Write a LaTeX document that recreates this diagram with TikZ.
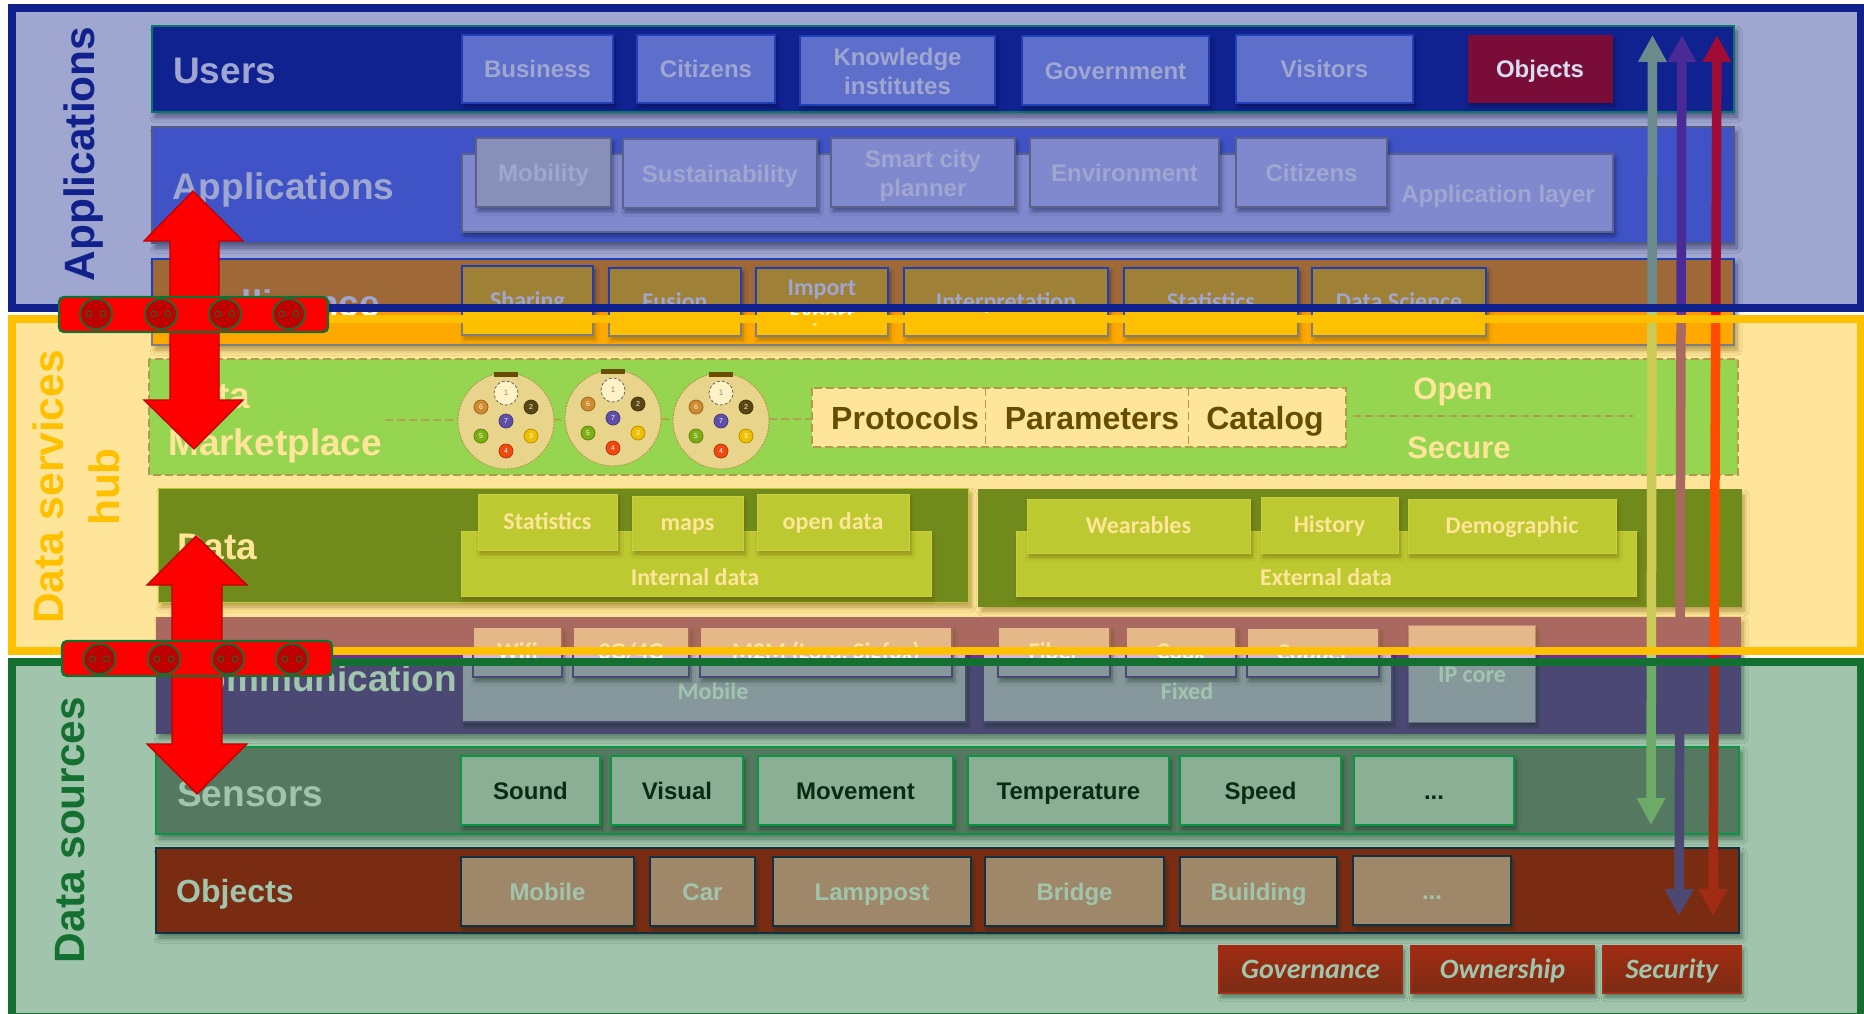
\documentclass[tikz,border=0pt]{standalone}
\usepackage{fontspec}
\setmainfont{Liberation Sans}
\newfontfamily\carl{Carlito}
\usetikzlibrary{shadows,shadows.blur,arrows.meta,calc}
\newcommand\fsz[1]{\fontsize{#1}{#1}\selectfont}
\definecolor{pblue}{HTML}{10218B}
\definecolor{pyel}{HTML}{FFC000}
\definecolor{pgrn}{HTML}{147031}
\definecolor{FFF2C4}{HTML}{FFF2C4}
\definecolor{intb}{HTML}{2A53D4}
\definecolor{dgreen}{HTML}{91D050}
\definecolor{dband}{HTML}{11692D}
\definecolor{purp}{HTML}{7030A0}
\definecolor{cbox}{HTML}{D5B4E6}
\definecolor{sgreen}{HTML}{00B050}
\definecolor{obox}{HTML}{FC9891}
\definecolor{onavy}{HTML}{0A0A50}
\definecolor{dialc}{HTML}{DAE4E9}
\definecolor{mkt}{HTML}{4FE385}
\definecolor{ubox}{HTML}{93A3F7}
\definecolor{uband}{HTML}{102194}
\definecolor{aband}{HTML}{5F75EE}
\definecolor{asub}{HTML}{CBCFFC}
\definecolor{iband}{HTML}{FF9800}
\definecolor{varrow}{HTML}{A9D18E}
\definecolor{objt}{HTML}{D8DCF0}
\definecolor{tabc}{HTML}{664D00}
\definecolor{pinB}{HTML}{5A4610}
\definecolor{pinY}{HTML}{F0C000}
\definecolor{pinR}{HTML}{F04A10}
\definecolor{pinG}{HTML}{7DAE14}
\definecolor{pinO}{HTML}{D08A30}
\definecolor{pinP}{HTML}{5F4FA8}
\tikzset{
 x=1pt,y=-1pt,
 shad/.style={blur shadow={shadow xshift=3pt,shadow yshift=-5pt,shadow blur radius=5pt,shadow blur steps=6,shadow opacity=50}},
 shads/.style={blur shadow={shadow xshift=2pt,shadow yshift=-4pt,shadow blur radius=4pt,shadow blur steps=6,shadow opacity=50}},
 ptitle/.style={font=\bfseries\fsz{42.4},rotate=90,inner sep=0pt,anchor=center},
 btitle/.style={font=\bfseries\fsz{37},text=white,inner sep=0pt,text height=26pt,text depth=0pt},
 tx/.style={text=white,font=\bfseries\fsz{24},align=center,inner sep=0pt,text height=17pt,text depth=0pt},
 cx/.style={text=white,font=\carl\bfseries\fsz{24},align=center,inner sep=0pt,text height=15.5pt,text depth=0pt},
 cxm/.style={text=white,font=\carl\bfseries\fontsize{24}{27}\selectfont,align=center,inner sep=0pt},
 ux/.style={text=white,align=center,inner sep=0pt,font=\bfseries\fontsize{24}{29}\selectfont},
 gx/.style={text=white,inner sep=0pt,font=\carl\bfseries\itshape\fsz{28},text height=18pt,text depth=0pt},
 kx/.style={inner sep=0pt,font=\bfseries\fsz{32},text=black,text height=23pt,text depth=0pt},
 mx/.style={text=white,inner sep=0pt,font=\bfseries\fsz{31},text height=22pt,text depth=0pt},
 band/.style={shad,line width=1.6pt},
 usrbox/.style={shads,fill=ubox,draw=intb,line width=1.6pt},
 appbox/.style={shads,fill=#1,draw=black!45,line width=1.4pt},
 intbox/.style={shads,fill=pyel,draw=intb,line width=1.6pt},
 databox/.style={shads,fill=dgreen,draw=dgreen!80!white,line width=1pt},
 combox/.style={shads,fill=cbox,draw=purp,line width=1.2pt},
 senbox/.style={shads,fill=black!15,draw=sgreen,line width=1.6pt},
 objbox/.style={shads,fill=obox,draw=onavy,line width=1.8pt},
 govbox/.style={shads,top color=red,bottom color=red!75!black,draw=red,line width=1.2pt},
 dashln/.style={draw=black!50,dash pattern=on 8pt off 4pt,line width=1.5pt},
 bigarrow/.style={fill=red,draw=red!75!black,line width=1.3pt,line join=miter},
 plugbar/.style={fill=red,draw=pgrn,line width=2.4pt,rounded corners=5pt},
 socket/.style={fill=red!75!black,draw=pgrn,line width=1.8pt},
 eye/.style={draw=pgrn,line width=.8pt,fill=red!75!black},
 dial/.style={fill=dialc,draw=black!50,line width=.9pt,dash pattern=on 2pt off 1pt},
 pin/.style={circle,draw=#1!75!black,fill=#1,line width=.8pt,minimum size=14pt,inner sep=0pt,text=white,font=\fontsize{7}{7}\selectfont},
 toppin/.style={circle,draw=black!60,fill=FFF2C4,densely dashed,line width=.8pt,minimum size=24pt,inner sep=0pt,text=black!45,font=\fontsize{8}{8}\selectfont},
 vline/.style={line width=9.5pt},
}
\newcommand\dialplug[3]{
 \begin{scope}[shift={(#2,#3)}]
 \fill[tabc] (-12,-49) rectangle (12,-44);
 \node[toppin] (#1p1) at (0,-28) {1};
 \node[pin=pinB] (#1p2) at (25,-14) {2};
 \node[pin=pinY] (#1p3) at (25,15) {3};
 \node[pin=pinR] (#1p4) at (0,30) {4};
 \node[pin=pinG] (#1p5) at (-25,15) {5};
 \node[pin=pinO] (#1p6) at (-25,-14) {6};
 \node[pin=pinP] (#1p7) at (0,0) {7};
 \end{scope}}
\newcommand\plugsock[3]{
 \draw[socket] (#2,#3) ellipse [x radius=16,y radius=15];
 \draw[eye] (#2-7,#3) circle (3);
 \draw[eye] (#2+7,#3) circle (3);
 \coordinate (#1) at (#2,#3);}
\begin{document}
\begin{tikzpicture}
\clip (0,0) rectangle (1864,1013);
\fill[white] (0,0) rectangle (1864,1013);

%% raw layers -------------------------------------------------
% Users
\draw[band,fill=uband,draw=sgreen] (152,26) rectangle (1734,112);
\node[btitle,anchor=west] (tusers) at (173,70) {Users};
\draw[usrbox] (462,35) rectangle node[tx] (u1) {Business} (613,103);
\draw[usrbox] (637,35) rectangle node[tx] (u2) {Citizens} (775,103);
\draw[usrbox] (800,36) rectangle node[ux,yshift=-1pt] (u3) {Knowledge\\institutes} (995,105);
\draw[usrbox] (1022,36) rectangle node[tx] (u4) {Government} (1209,105);
\draw[usrbox] (1236,35) rectangle node[tx] (u5) {Visitors} (1413,103);
\draw[shads,fill=red!75!black,draw=red!75!black,line width=1pt] (1468,35) rectangle (1612,102);
% Applications
\draw[band,fill=aband,draw=black!50] (152,127) rectangle (1734,243);
\node[btitle,anchor=west] (tapps) at (172,186) {Applications};
\draw[appbox=asub] (462,154) rectangle (1613,232);
\node[tx] (alayer) at (1498,194) {Application layer};
\draw[appbox=black!15] (476,138) rectangle node[tx] (a1) {Mobility} (611,207);
\draw[appbox=asub] (623,139) rectangle node[tx] (a2) {Sustainability} (817,208);
\draw[appbox=asub] (831,138) rectangle node[ux,yshift=-3pt] (a3) {Smart city\\planner} (1015,207);
\draw[appbox=asub] (1030,138) rectangle node[tx] (a4) {Environment} (1219,207);
\draw[appbox=asub] (1236,138) rectangle node[tx] (a5) {Citizens} (1387,207);
% Intelligence
\draw[band,fill=iband,draw=intb] (152,259) rectangle (1734,345);
\node[btitle,anchor=west] (tint) at (176,303) {Intelligence};
\draw[intbox] (462,266) rectangle node[cx] (i1) {Sharing} (593,335);
\draw[intbox] (609,268) rectangle node[cx] (i2) {Fusion} (741,336);
\draw[intbox] (756,268) rectangle node[cxm,yshift=-1pt] (i3) {Import\\Export} (888,336);
\draw[intbox] (904,268) rectangle node[cx] (i4) {Interpretation} (1108,336);
\draw[intbox] (1124,268) rectangle node[cx] (i5) {Statistics} (1298,336);
\draw[intbox] (1312,268) rectangle node[cx] (i6) {Data Science} (1486,336);
% Marketplace
\draw[fill=mkt,dashln] (149,359) rectangle (1738,475);
\node[btitle,anchor=west] (tm1) at (170,395) {Data};
\node[btitle,anchor=west] (tm2) at (168,442) {Marketplace};
\coordinate (dl1) at (385,420);
\coordinate (dl2) at (812,419);
\coordinate (dr1) at (1353,416);
\coordinate (dr2) at (1633,416);
\coordinate (dv1a) at (985,388);
\coordinate (dv1b) at (985,447);
\coordinate (dv2a) at (1188,388);
\coordinate (dv2b) at (1188,447);
\draw[fill=white,dashln] (812,388) rectangle (1346,447);
\node[kx] (k1) at (905,418) {Protocols};
\node[kx] (k2) at (1092,418) {Parameters};
\node[kx] (k3) at (1265,418) {Catalog};
\draw[dashln,line width=1pt] (dv1a) -- (dv1b);
\draw[dashln,line width=1pt] (dv2a) -- (dv2b);
\draw[dashln] (dl1) -- (dl2);
\draw[dashln] (dr1) -- (dr2);
\node[mx] (mopen) at (1453,388) {Open};
\node[mx] (msec) at (1459,447) {Secure};
\draw[dial] (506,421) circle (48);
\draw[dial] (613,418) circle (48);
\draw[dial] (721,421) circle (48);
% Data
\draw[band,fill=dband,draw=dgreen,line width=1pt] (158,488) rectangle (968,602);
\draw[band,fill=dband,draw=dband] (979,490) rectangle (1741,606);
\node[btitle,anchor=west] (tdata) at (177,546) {Data};
\draw[databox] (461,531) rectangle (931,596);
\node[cx] (d0) at (695,578) {Internal data};
\draw[databox] (478,494) rectangle node[cx] (d1) {Statistics} (617,550);
\draw[databox] (632,496) rectangle node[cx] (d2) {maps} (743,550);
\draw[databox] (757,494) rectangle node[cx] (d3) {open data} (909,550);
\draw[databox] (1016,531) rectangle (1636,596);
\node[cx] (e0) at (1326,578) {External data};
\draw[databox] (1027,499) rectangle node[cx] (e1) {Wearables} (1250,553);
\draw[databox] (1261,497) rectangle node[cx] (e2) {History} (1398,553);
\draw[databox] (1408,499) rectangle node[cx] (e3) {Demographic} (1616,553);
% Communication
\draw[shad,fill=purp,draw=purp] (156,617) rectangle (1740,733);
\node[btitle,anchor=east] (tcom) at (457,678) {Communication};
\draw[combox] (462,650) rectangle (966,722);
\node[cx] (c0) at (713,692) {Mobile};
\draw[combox] (983,650) rectangle (1392,722);
\node[cx] (c4) at (1187,692) {Fixed};
\draw[shads,fill=cbox,draw=purp!60!cbox,line width=.8pt] (1408,625) rectangle (1535,722);
\node[cx] (c8) at (1472,675) {IP core};
\draw[combox] (473,627) rectangle node[cx] (c1) {Wifi} (562,677);
\draw[combox] (573,627) rectangle node[cx] (c2) {3G/4G} (689,677);
\draw[combox] (700,627) rectangle node[cx] (c3) {M2M (Lora, Sigfox)} (952,677);
\draw[combox] (998,627) rectangle node[cx] (c5) {Fiber} (1110,677);
\draw[combox] (1126,627) rectangle node[cx] (c6) {Coax} (1236,677);
\draw[combox] (1247,628) rectangle node[cx] (c7) {Copper} (1379,677);
% Sensors
\draw[band,fill=black!50,draw=sgreen] (156,747) rectangle (1739,834);
\node[btitle,anchor=west] (tsens) at (177,793) {Sensors};
\draw[senbox] (461,756) rectangle node[tx,text=black] (s1) {Sound} (600,825);
\draw[senbox] (611,756) rectangle node[tx,text=black] (s2) {Visual} (743,825);
\draw[senbox] (758,756) rectangle node[tx,text=black] (s3) {Movement} (953,825);
\draw[senbox] (968,756) rectangle node[tx,text=black] (s4) {Temperature} (1169,825);
\draw[senbox] (1180,756) rectangle node[tx,text=black] (s5) {Speed} (1341,825);
\draw[senbox] (1354,756) rectangle node[tx,text=black] (s6) {...} (1514,825);
% Objects
\draw[band,fill=red!75!black,draw=onavy] (156,848) rectangle (1739,933);
\node[btitle,anchor=west,font=\bfseries\fsz{32},text height=23pt] (tobj) at (176,891) {Objects};
\draw[objbox] (461,857) rectangle node[tx] (o1) {Mobile} (634,926);
\draw[objbox] (650,857) rectangle node[tx] (o2) {Car} (755,926);
\draw[objbox] (773,857) rectangle node[tx] (o3) {Lamppost} (971,926);
\draw[objbox] (985,857) rectangle node[tx] (o4) {Bridge} (1164,926);
\draw[objbox] (1180,857) rectangle node[tx] (o5) {Building} (1337,926);
\draw[objbox] (1353,856) rectangle node[tx] (o6) {...} (1511,925);
% Governance
\draw[govbox] (1219,946) rectangle node[gx] (g1) {Governance} (1402,993);
\draw[govbox] (1411,946) rectangle node[gx] (g2) {Ownership} (1594,993);
\draw[govbox] (1603,946) rectangle node[gx] (g3) {Security} (1741,993);
% vertical arrows
\coordinate (va1) at (1652.5,35); \coordinate (vb1) at (1651,825);
\coordinate (va2) at (1682,35); \coordinate (vb2) at (1679,916);
\coordinate (va3) at (1717,35); \coordinate (vb3) at (1713,916);
\draw[vline,draw=varrow,{Triangle[width=27pt,length=27pt]}-{Triangle[width=27pt,length=27pt]}] (va1) -- (vb1);
\draw[vline,draw=purp,{Triangle[width=27pt,length=27pt]}-{Triangle[width=27pt,length=27pt]}] (va2) -- (vb2);
\draw[vline,draw=red,{Triangle[width=27pt,length=27pt]}-{Triangle[width=27pt,length=27pt]}] (va3) -- (vb3);

%% translucent panels -----------------------------------------
\path[fill=pblue,fill opacity=.4,draw=pblue,draw opacity=1,line width=8pt] (12,8) rectangle (1861,308);
\path[fill=pyel,fill opacity=.4,draw=pyel,draw opacity=1,line width=8pt] (12,319) rectangle (1861,651);
\path[fill=pgrn,fill opacity=.4,draw=pgrn,draw opacity=1,line width=8pt] (12,662) rectangle (1861,1017);

%% on top ------------------------------------------------------
\node[ptitle,text=pblue] (pa) at (84,154) {Applications};
\node[ptitle,text=pyel,align=center,font=\bfseries\fontsize{42.4}{56}\selectfont] (pd) at (76,487) {Data services\\hub};
\node[ptitle,text=pgrn] (ps) at (70,830) {Data sources};
\node[tx,text=objt] (u6) at (1540,69) {Objects};
\dialplug{da}{506}{421}
\dialplug{db}{613}{418}
\dialplug{dc}{721}{421}
% big double arrows
\draw[bigarrow] (193,191) -- (243,241) -- (219,241) -- (219,400) -- (243,400) -- (194,449) -- (144,400) -- (170,400) -- (170,241) -- (144,241) -- cycle;
\draw[bigarrow] (196,536) -- (247,585) -- (222,585) -- (222,744) -- (247,744) -- (197,794) -- (147,744) -- (172,744) -- (172,585) -- (147,585) -- cycle;
% plug bars
\draw[plugbar] (59,297) rectangle (328,332);
\plugsock{p11}{96}{314}
\plugsock{p12}{161}{314}
\plugsock{p13}{225}{314}
\plugsock{p14}{289}{314}
\draw[plugbar] (62,641) rectangle (332,676);
\plugsock{p21}{99.5}{659}
\plugsock{p22}{164}{659}
\plugsock{p23}{228}{659}
\plugsock{p24}{292}{659}
\end{tikzpicture}
\end{document}
